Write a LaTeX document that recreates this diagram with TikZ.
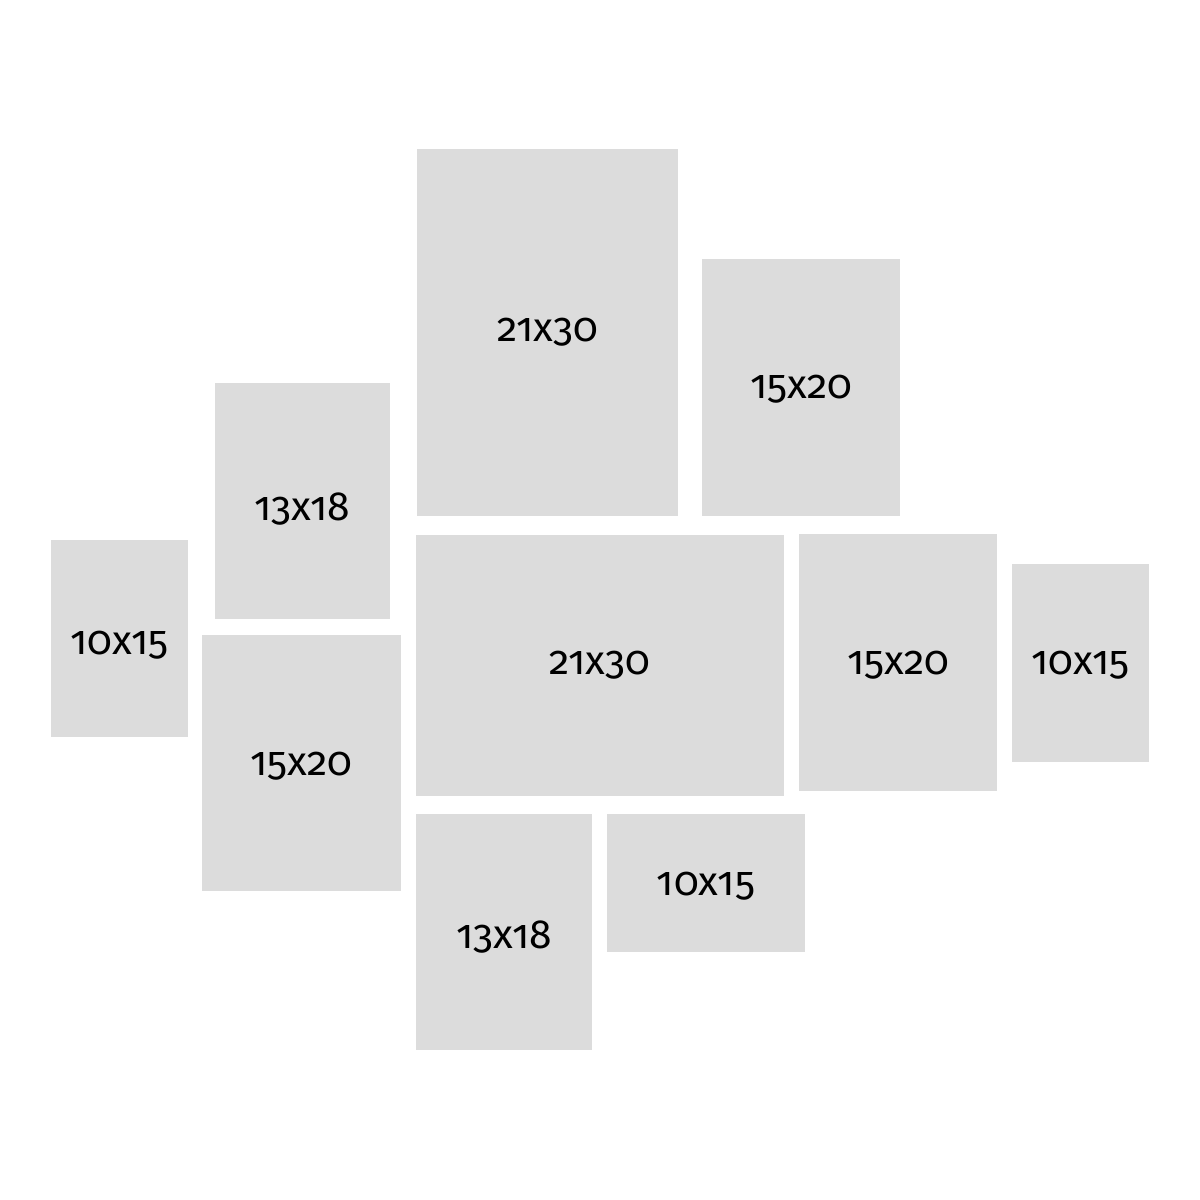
\documentclass[tikz,border=0pt]{standalone}
\usepackage{fontspec}
\setmainfont{Fira Sans}[Numbers={OldStyle,Proportional}]
\usepackage{tikz}
\usepackage{xcolor}

\definecolor{framegray}{HTML}{DCDCDC}
\newcommand{\lowered}[2]{\raisebox{-#1}[\height][\depth]{#2}}

\begin{document}
\begin{tikzpicture}[
    font=\fontsize{11.6}{14}\selectfont,
    frame/.style={fill=framegray, inner sep=0pt, text=black},
]

\useasboundingbox[fill=white] (0,0) rectangle (12,12);

% Top row
\node[frame, minimum width=2.61cm, minimum height=3.67cm] (topbig) at (5.475, 8.675) {21x30};
\node[frame, minimum width=1.98cm, minimum height=2.57cm] (topmid) at (8.01, 8.125) {\lowered{0.2mm}{15x20}};

% Left column
\node[frame, minimum width=1.75cm, minimum height=2.36cm] (leftup) at (3.025, 6.99) {\lowered{0.8mm}{13x18}};
\node[frame, minimum width=1.37cm, minimum height=1.97cm] (leftsmall) at (1.195, 5.615) {\lowered{0.7mm}{10x15}};
\node[frame, minimum width=1.99cm, minimum height=2.56cm] (leftlow) at (3.015, 4.37) {\lowered{0.3mm}{15x20}};

% Middle row
\node[frame, minimum width=3.68cm, minimum height=2.61cm] (centre) at (6.0, 5.345) {21x30};
\node[frame, minimum width=1.98cm, minimum height=2.57cm] (rightmid) at (8.98, 5.375) {\lowered{0.3mm}{15x20}};
\node[frame, minimum width=1.37cm, minimum height=1.98cm] (rightsmall) at (10.805, 5.37) {\lowered{0.2mm}{10x15}};

% Bottom row
\node[frame, minimum width=1.76cm, minimum height=2.36cm] (bottomleft) at (5.04, 2.68) {\lowered{0.5mm}{13x18}};
\node[frame, minimum width=1.98cm, minimum height=1.38cm] (bottomright) at (7.06, 3.17) {\lowered{0.3mm}{10x15}};

\end{tikzpicture}
\end{document}
